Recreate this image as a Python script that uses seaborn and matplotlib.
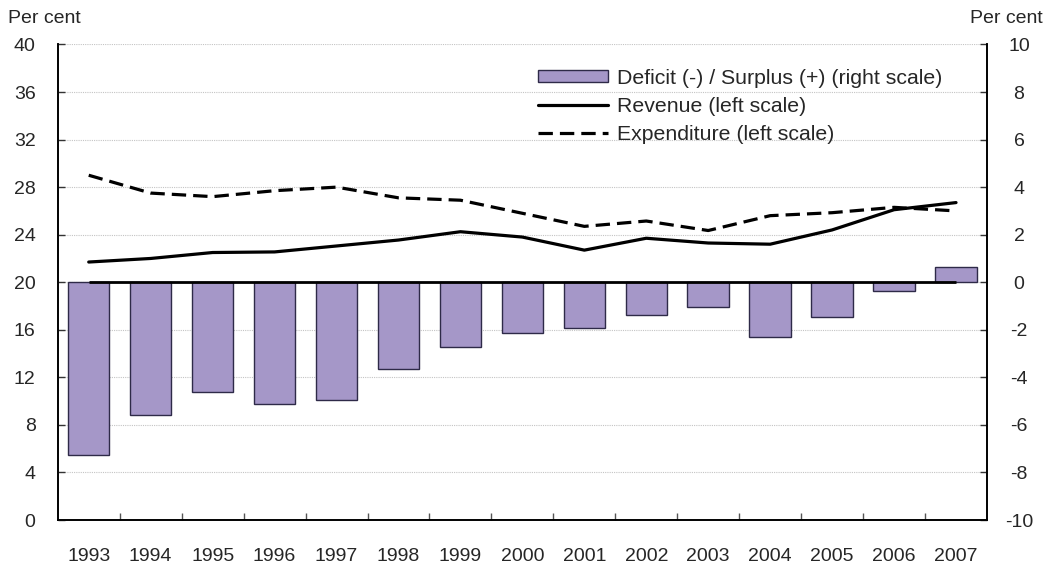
import matplotlib

matplotlib.use("Agg")

import matplotlib.pyplot as plt
import numpy as np
import pandas as pd
import seaborn as sns
from matplotlib.patches import Patch
from matplotlib.lines import Line2D

sns.set_theme(style="white")
plt.rcParams["font.family"] = ["Liberation Sans", "DejaVu Sans"]
plt.rcParams["axes.unicode_minus"] = False

years = ["1993", "1994", "1995", "1996", "1997", "1998", "1999", "2000",
         "2001", "2002", "2003", "2004", "2005", "2006", "2007"]
balance = [-7.27, -5.60, -4.63, -5.14, -4.96, -3.66, -2.74, -2.13,
           -1.94, -1.39, -1.05, -2.32, -1.47, -0.35, 0.63]
revenue = [21.7, 22.0, 22.5, 22.55, 23.05, 23.55, 24.25, 23.8,
           22.7, 23.7, 23.3, 23.2, 24.4, 26.1, 26.7]
expenditure = [29.0, 27.5, 27.2, 27.7, 28.0, 27.1, 26.9, 25.8,
               24.7, 25.15, 24.35, 25.6, 25.85, 26.3, 26.0]

left_ticks = list(range(0, 44, 4))
right_ticks = list(range(-10, 12, 2))

BAR_COLOR = "#a597c8"
EDGE_COLOR = "#2e2a48"
FS = 14

df = pd.DataFrame({"year": years, "balance": balance,
                   "revenue": revenue, "expenditure": expenditure})
df["pos"] = np.arange(len(df))

fig = plt.figure(figsize=(10.5, 5.68), dpi=100)
ax = fig.add_axes([0.055, 0.0845, 0.885, 0.8372])
ax2 = ax.twinx()

# bars on the right scale (drawn underneath)
sns.barplot(data=df, x="year", y="balance", color=BAR_COLOR, saturation=1,
            width=0.67, edgecolor=EDGE_COLOR, linewidth=1, ax=ax)
ax.hlines(0, df["pos"].iloc[0], df["pos"].iloc[-1], color="black", lw=2, zorder=3)
ax.set_ylim(-10, 10)
ax.set_yticks(right_ticks)
ax.yaxis.tick_right()
ax.set_axisbelow(True)
ax.grid(axis="y", color="#c4c4c4", linestyle=(0, (1, 1)), linewidth=0.8)
ax.grid(axis="x", visible=False)

# lines on the left scale
sns.lineplot(data=df, x="pos", y="revenue", color="black", lw=2.3, ax=ax2)
sns.lineplot(data=df, x="pos", y="expenditure", color="black", lw=2.3,
             dashes=False, ax=ax2, linestyle=(0, (4.5, 2.2)))
ax2.set_ylim(0, 40)
ax2.set_yticks(left_ticks)
ax2.yaxis.tick_left()
ax2.set_xlim(-0.5, len(years) - 0.5)

for a in (ax, ax2):
    a.set_xlabel("")
    a.set_ylabel("")
    a.spines["top"].set_visible(False)
    for s in ("left", "right", "bottom"):
        a.spines[s].set_color("black")
        a.spines[s].set_linewidth(1.2)

ax.tick_params(axis="y", direction="in", length=5, width=1, color="#333333",
               right=True, left=False, labelsize=FS, pad=23)
for lab in ax.get_yticklabels():
    lab.set_ha("center")
ax2.tick_params(axis="y", direction="in", length=5, width=1, color="#333333",
                left=True, right=False, labelsize=FS, pad=16)
ax.set_xticks(df["pos"], years)
ax.set_xticks(df["pos"][:-1] + 0.5, minor=True)
ax.tick_params(axis="x", which="major", length=0, labelsize=FS, pad=20)
ax.tick_params(axis="x", which="minor", direction="in", length=5, width=1,
               color="#555555", bottom=True)
ax2.tick_params(axis="x", length=0)

fig.text(0.008, 0.968, "Per cent", fontsize=FS, ha="left", va="center")
fig.text(0.993, 0.968, "Per cent", fontsize=FS, ha="right", va="center")

handles = [
    Patch(facecolor=BAR_COLOR, edgecolor=EDGE_COLOR, linewidth=1),
    Line2D([], [], color="black", lw=2.3),
    Line2D([], [], color="black", lw=2.3, linestyle=(0, (4.5, 2.2))),
]
labels = ["Deficit (-) / Surplus (+) (right scale)", "Revenue (left scale)",
          "Expenditure (left scale)"]
ax2.legend(handles, labels, loc="upper left", bbox_to_anchor=(0.508, 0.967),
           frameon=False, fontsize=15.3, handlelength=3.3, handleheight=0.5,
           handletextpad=0.38, labelspacing=0.42, borderaxespad=0)

fig.savefig("out.png", dpi=100)
